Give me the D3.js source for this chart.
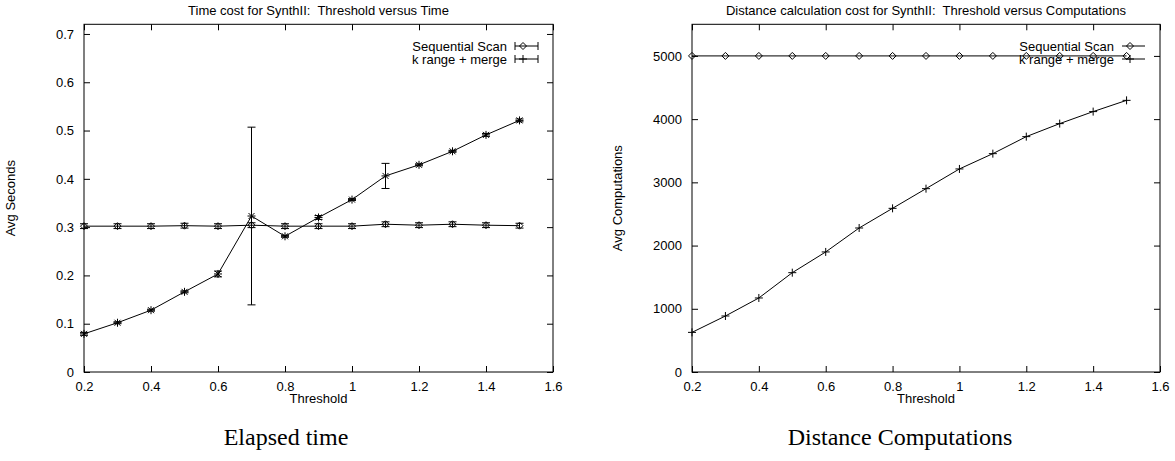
<!DOCTYPE html>
<html>
<head>
<meta charset="utf-8">
<script src="https://cdn.jsdelivr.net/npm/d3@7"></script>
<style>
  html, body { margin: 0; padding: 0; background: #fff; }
  svg { display: block; }
  .sans { font-family: "Liberation Sans", Arial, Helvetica, sans-serif; font-size: 13px; fill: #000; white-space: pre; }
  .cap { font-family: "Liberation Serif", "DejaVu Serif", serif; font-size: 24px; fill: #000; }
</style>
</head>
<body>
<svg id="chart" width="1175" height="461"></svg>
<script>
// ---------------- data ----------------
const thresholds = [0.2, 0.3, 0.4, 0.5, 0.6, 0.7, 0.8, 0.9, 1.0, 1.1, 1.2, 1.3, 1.4, 1.5];

// Elapsed time (Avg Seconds)
const timeSeq    = [0.302, 0.302, 0.302, 0.303, 0.302, 0.304, 0.302, 0.302, 0.302, 0.306, 0.304, 0.306, 0.304, 0.303];
const timeSeqErr = [0.005, 0.005, 0.005, 0.005, 0.005, 0.005, 0.005, 0.005, 0.005, 0.005, 0.005, 0.005, 0.005, 0.005];
const timeKrm    = [0.079, 0.102, 0.128, 0.166, 0.203, 0.323, 0.281, 0.320, 0.357, 0.406, 0.429, 0.457, 0.491, 0.521];
const timeKrmErr = [0.003, 0.002, 0.002, 0.002, 0.006, 0.184, 0.002, 0.004, 0.002, 0.026, 0.002, 0.002, 0.003, 0.003];

// Distance computations (Avg Computations)
const compSeq = [5000, 5000, 5000, 5000, 5000, 5000, 5000, 5000, 5000, 5000, 5000, 5000, 5000, 5000];
const compKrm = [627, 886, 1171, 1571, 1899, 2278, 2589, 2900, 3212, 3454, 3723, 3929, 4119, 4297];

// axes / ticks
const xTicks = [0.2, 0.4, 0.6, 0.8, 1.0, 1.2, 1.4, 1.6];
const timeTicks = [0, 0.1, 0.2, 0.3, 0.4, 0.5, 0.6, 0.7];
const compTicks = [0, 1000, 2000, 3000, 4000, 5000];

const seriesNames = ["Sequential Scan", "k range + merge"];
const titles = ["Time cost for SynthII:  Threshold versus Time",
                "Distance calculation cost for SynthII:  Threshold versus Computations"];
const yLabels = ["Avg Seconds", "Avg Computations"];
const xLabel = "Threshold";
const captions = ["Elapsed time", "Distance Computations"];

// ---------------- drawing ----------------
const svg = d3.select("#chart");
const TOP = 24.3, BOTTOM = 372, TICK = 6;

function markerPath(type, r) {
  if (type === "diamond") return `M0,${-r}L${r},0L0,${r}L${-r},0Z`;
  if (type === "plus") return `M${-r},0H${r}M0,${-r}V${r}`;
  if (type === "star") {
    const d = r * 0.75;
    return `M${-r},0H${r}M0,${-r}V${r}M${-d},${-d}L${d},${d}M${-d},${d}L${d},${-d}`;
  }
  return "";
}

function panel(opt) {
  const x = d3.scaleLinear().domain([0.2, 1.6]).range([opt.left, opt.right]);
  const y = d3.scaleLinear().domain([0, opt.ymax]).range([BOTTOM, TOP]);
  const g = svg.append("g");

  // frame
  g.append("rect").attr("x", opt.left).attr("y", TOP)
    .attr("width", opt.right - opt.left).attr("height", BOTTOM - TOP)
    .attr("fill", "none").attr("stroke", "#000").attr("stroke-width", 1);

  // axes (inward ticks, mirrored)
  const fmtX = d => d3.format("~g")(d);
  const bottomAxis = d3.axisBottom(x).tickValues(xTicks).tickSizeInner(-TICK).tickSizeOuter(0).tickPadding(TICK + 4).tickFormat(fmtX);
  const topAxis = d3.axisTop(x).tickValues(xTicks).tickSizeInner(-TICK).tickSizeOuter(0).tickFormat("");
  const leftAxis = d3.axisLeft(y).tickValues(opt.yTicks).tickSizeInner(-TICK).tickSizeOuter(0).tickPadding(TICK + 4).tickFormat(d3.format("~g"));
  const rightAxis = d3.axisRight(y).tickValues(opt.yTicks).tickSizeInner(-TICK).tickSizeOuter(0).tickFormat("");

  function styleAxis(sel) {
    sel.select(".domain").remove();
    sel.selectAll("line").attr("stroke", "#000");
    sel.selectAll("text").attr("class", "sans").attr("font-family", null).attr("font-size", null).attr("fill", "#000");
  }
  g.append("g").attr("transform", `translate(0,${BOTTOM})`).call(bottomAxis).call(styleAxis);
  g.append("g").attr("transform", `translate(0,${TOP})`).call(topAxis).call(styleAxis);
  g.append("g").attr("transform", `translate(${opt.left},0)`).call(leftAxis).call(styleAxis);
  g.append("g").attr("transform", `translate(${opt.right},0)`).call(rightAxis).call(styleAxis);

  // titles/labels
  const cx = (opt.left + opt.right) / 2;
  g.append("text").attr("class", "sans").attr("x", cx).attr("y", 15)
    .attr("text-anchor", "middle").text(opt.title);
  g.append("text").attr("class", "sans").attr("x", cx).attr("y", 403)
    .attr("text-anchor", "middle").text(xLabel);
  g.append("text").attr("class", "sans")
    .attr("transform", `translate(${opt.yLabelX},${(TOP + BOTTOM) / 2}) rotate(-90)`)
    .attr("text-anchor", "middle").text(opt.yLabel);
  g.append("text").attr("class", "cap").attr("x", opt.capX).attr("y", 445)
    .attr("text-anchor", "middle").text(opt.caption);

  // series
  const line = d3.line().x(d => x(d.t)).y(d => y(d.v));
  opt.series.forEach(s => {
    const pts = thresholds.map((t, i) => ({ t, v: s.values[i], e: s.err ? s.err[i] : 0 }));
    g.append("path").datum(pts).attr("d", line)
      .attr("fill", "none").attr("stroke", "#000").attr("stroke-width", 1);
    if (s.err) {
      const eb = g.append("g").attr("stroke", "#000").attr("stroke-width", 1);
      pts.forEach(p => {
        const px = x(p.t), hi = y(p.v + p.e), lo = y(p.v - p.e);
        eb.append("line").attr("x1", px).attr("x2", px).attr("y1", hi).attr("y2", lo);
        eb.append("line").attr("x1", px - 4).attr("x2", px + 4).attr("y1", hi).attr("y2", hi);
        eb.append("line").attr("x1", px - 4).attr("x2", px + 4).attr("y1", lo).attr("y2", lo);
      });
    }
    g.selectAll(null).data(pts).enter().append("path")
      .attr("transform", p => `translate(${x(p.t)},${y(p.v)})`)
      .attr("d", markerPath(s.marker, s.size))
      .attr("fill", "none").attr("stroke", "#000").attr("stroke-width", 1);
  });

  // legend
  opt.series.forEach((s, i) => {
    const ly = 46 + i * 13;
    const sx0 = opt.right - 38, sx1 = opt.right - 15;
    g.append("text").attr("class", "sans").attr("x", sx0 - 8).attr("y", ly + 4.5)
      .attr("text-anchor", "end").text(s.name);
    g.append("line").attr("x1", sx0).attr("x2", sx1).attr("y1", ly).attr("y2", ly)
      .attr("stroke", "#000");
    if (s.err) {
      [sx0, sx1].forEach(ex => g.append("line").attr("x1", ex).attr("x2", ex)
        .attr("y1", ly - 4).attr("y2", ly + 4).attr("stroke", "#000"));
    }
    g.append("path").attr("transform", `translate(${sx0 + 8},${ly})`)
      .attr("d", markerPath(s.legendMarker || s.marker, s.size))
      .attr("fill", "none").attr("stroke", "#000");
  });
}

panel({
  left: 84, right: 553, ymax: 0.72, yTicks: timeTicks,
  title: titles[0], yLabel: yLabels[0], yLabelX: 15, caption: captions[0], capX: 286,
  series: [
    { name: seriesNames[0], values: timeSeq, err: timeSeqErr, marker: "diamond", size: 3.5 },
    { name: seriesNames[1], values: timeKrm, err: timeKrmErr, marker: "star", legendMarker: "plus", size: 4 }
  ]
});

panel({
  left: 692, right: 1160, ymax: 5500, yTicks: compTicks,
  title: titles[1], yLabel: yLabels[1], yLabelX: 622, caption: captions[1], capX: 900,
  series: [
    { name: seriesNames[0], values: compSeq, marker: "diamond", size: 3.5 },
    { name: seriesNames[1], values: compKrm, marker: "plus", size: 4 }
  ]
});
</script>
</body>
</html>
